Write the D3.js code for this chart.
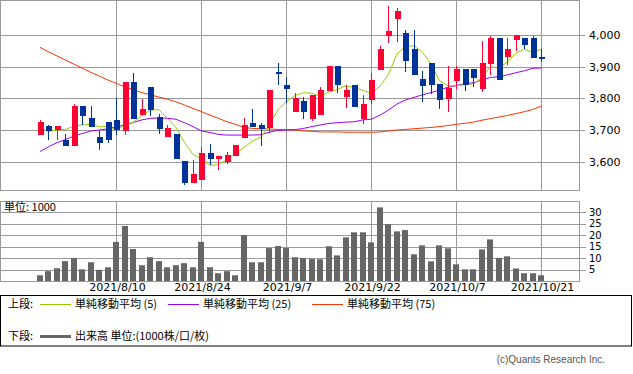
<!DOCTYPE html>
<meta charset="utf-8">
<html>
<head>
  <title>Candlestick with volume</title>
  <style>
    body { margin: 0; background: #fff; }
    svg { width: 633px; height: 374px; display: block; }
    .axis text { font-family: 'DejaVu Sans', sans-serif; font-size: 11px; fill: #000; }
    .axis text.vl { font-size: 10px; }
    .legend text { font-family: 'Noto Sans CJK JP', sans-serif; font-size: 11px; fill: #000; }
    .grid line { stroke: #999; stroke-width: 1; shape-rendering: crispEdges; }
    .frame { fill: none; stroke: #999; stroke-width: 1; shape-rendering: crispEdges; }
    .up { fill: #ff0033; stroke: none; }
    .down { fill: #003399; stroke: none; }
    .vol { fill: #666; }
  </style>
  <script src="https://d3js.org/d3.v7.min.js"></script>
</head>
<body>
  <svg></svg>
  <script>
    // trading days, 2021/7/27 - 2021/10/21
    var dates = ["7/27","7/28","7/29","7/30","8/2","8/3","8/4","8/5","8/6","8/10",
      "8/11","8/12","8/13","8/16","8/17","8/18","8/19","8/20","8/23","8/24",
      "8/25","8/26","8/27","8/30","8/31","9/1","9/2","9/3","9/6","9/7",
      "9/8","9/9","9/10","9/13","9/14","9/15","9/16","9/17","9/21","9/22",
      "9/24","9/27","9/28","9/29","9/30","10/1","10/4","10/5","10/6","10/7",
      "10/8","10/11","10/12","10/13","10/14","10/15","10/18","10/19","10/20","10/21"];

    var open = [3685,3713,3700,3670,3650,3776,3738,3679,3725,3732,
      3698,3852,3746,3835,3742,3679,3687,3601,3534,3542,
      3627,3609,3599,3619,3676,3722,3716,3705,3883,3842,
      3758,3792,3735,3748,3824,3902,3805,3841,3736,3796,
      3891,3998,4049,4006,3955,3861,3912,3844,3799,3856,
      3892,3892,3831,3909,3991,3929,3985,3991,3991,3929];
    var high = [3732,3716,3713,3687,3782,3776,3776,3698,3725,3800,
      3852,3880,3798,3835,3750,3716,3687,3603,3605,3647,
      3656,3619,3630,3654,3738,3766,3722,3827,3913,3867,
      3816,3805,3811,3835,3902,3902,3841,3841,3811,3880,
      3965,4092,4085,4016,4016,3886,3912,3844,3902,3902,
      3892,3892,3981,3998,3991,3991,4001,3991,3998,3957];
    var low = [3685,3668,3668,3650,3650,3716,3711,3637,3660,3685,
      3685,3736,3746,3744,3687,3679,3609,3525,3534,3542,
      3591,3574,3593,3619,3676,3709,3649,3689,3843,3784,
      3758,3736,3729,3748,3824,3818,3771,3772,3720,3782,
      3891,3976,3979,3884,3875,3789,3815,3765,3757,3831,
      3824,3835,3819,3873,3859,3904,3951,3955,3928,3915];
    var close = [3725,3696,3713,3650,3776,3745,3711,3660,3668,3700,
      3852,3736,3766,3763,3704,3707,3609,3534,3562,3627,
      3608,3619,3621,3654,3716,3709,3702,3827,3877,3831,
      3801,3758,3811,3826,3902,3843,3826,3772,3781,3858,
      3955,4012,4076,3917,3875,3839,3843,3796,3833,3892,
      3843,3864,3912,3991,3859,3956,4001,3969,3928,3924];

    // moving averages
    var ma5 = [3707,3695,3700,3702,3712,3716,3718,3710,3711,3700,
      3717,3725,3745,3763,3764,3736,3708,3661,3623,3609,
      3589,3590,3607,3625,3645,3665,3678,3715,3765,3789,
      3809,3818,3816,3806,3820,3828,3840,3834,3825,3816,
      3838,3876,3940,3964,3966,3945,3910,3856,3839,3840,
      3843,3846,3865,3900,3895,3916,3943,3955,3944,3956];
    var ma25 = [3632,3647,3660,3670,3681,3689,3697,3700,3704,3710,
      3716,3724,3732,3737,3738,3737,3734,3723,3711,3697,
      3692,3686,3684,3684,3684,3684,3685,3693,3699,3700,
      3701,3705,3711,3716,3721,3723,3725,3726,3732,3734,
      3747,3763,3782,3795,3803,3811,3818,3826,3835,3840,
      3847,3849,3858,3866,3868,3874,3881,3887,3895,3896];
    var ma75 = [3961,3947,3934,3921,3908,3895,3882,3870,3858,3847,
      3836,3827,3818,3811,3804,3797,3789,3779,3768,3758,
      3747,3737,3726,3718,3708,3705,3704,3703,3702,3701,
      3700,3697,3696,3694,3694,3694,3693,3693,3693,3693,
      3694,3697,3700,3702,3704,3706,3708,3711,3714,3718,
      3721,3725,3731,3736,3741,3746,3752,3758,3765,3776];

    // volume, unit 1000
    var volume = [2.5,4.3,5.6,8.7,10.1,5.1,8.2,4.9,6.0,17.1,
      24.1,14.0,6.9,10.4,8.7,6.0,6.9,7.8,6.0,17.1,
      6.0,3.4,4.3,2.5,20.1,8.2,8.2,14.4,15.3,14.4,
      10.4,10.0,9.6,9.5,15.2,11.2,19.1,21.3,21.3,16.9,
      32.2,24.9,21.7,22.3,11.7,15.6,8.6,15.6,14.3,7.3,
      5.1,5.1,13.8,18.2,10.1,10.8,5.5,3.4,3.4,2.5];

    // tick labels
    var dateTicks = [9, 19, 29, 39, 49, 59];
    var dateLabels = ["2021/8/10","2021/8/24","2021/9/7","2021/9/22","2021/10/7","2021/10/21"];
    var priceTicks = [3600, 3700, 3800, 3900, 4000];
    var volTicks = [5, 10, 15, 20, 25, 30];

    var svg = d3.select("svg");

    var plotW = 580;
    var price = {top: 0, bottom: 190};
    var vol = {top: 201, bottom: 281};

    // index scale, a few empty slots on both sides
    var x = d3.scaleLinear().domain([-4.7, 63.53]).range([0, plotW]);
    var y = d3.scaleLinear().domain([3509, 4110.5]).range([190.5, 0]);
    var yv = d3.scaleLinear().domain([0, 35]).range([281, 201]);

    var idx = d3.range(dates.length);
    var fmt = d3.format(",");

    // ---- price panel grid ----
    var g = svg.append("g").attr("class", "grid");
    g.selectAll(".hp").data(priceTicks).enter().append("line")
      .attr("x1", 0).attr("x2", plotW + 5)
      .attr("y1", function(d) { return Math.round(y(d)) + 0.5; })
      .attr("y2", function(d) { return Math.round(y(d)) + 0.5; });
    g.selectAll(".vp").data(dateTicks).enter().append("line")
      .attr("x1", function(d) { return Math.round(x(d)) + 0.5; })
      .attr("x2", function(d) { return Math.round(x(d)) + 0.5; })
      .attr("y1", price.top).attr("y2", price.bottom);

    // ---- volume panel grid ----
    g.selectAll(".hv").data(volTicks).enter().append("line")
      .attr("x1", 0).attr("x2", plotW + 6)
      .attr("y1", function(d) { return Math.round(yv(d)) + 0.5; })
      .attr("y2", function(d) { return Math.round(yv(d)) + 0.5; });
    g.selectAll(".vv").data(dateTicks).enter().append("line")
      .attr("x1", function(d) { return Math.round(x(d)) + 0.5; })
      .attr("x2", function(d) { return Math.round(x(d)) + 0.5; })
      .attr("y1", vol.top).attr("y2", vol.bottom);

    // frames
    svg.append("rect").attr("class", "frame")
      .attr("x", 0.5).attr("y", 0.5).attr("width", plotW - 1).attr("height", price.bottom);
    svg.append("rect").attr("class", "frame")
      .attr("x", 0.5).attr("y", vol.top + 0.5).attr("width", plotW - 1).attr("height", vol.bottom - vol.top);

    // ---- volume bars ----
    svg.append("g").selectAll("rect").data(idx).enter().append("rect")
      .attr("class", "vol")
      .attr("x", function(i) { return Math.round(x(i)) - 3; })
      .attr("width", 6)
      .attr("y", function(i) { return yv(volume[i]); })
      .attr("height", function(i) { return yv(0) - yv(volume[i]); });

    // ---- moving averages ----
    var line = d3.line()
      .x(function(d, i) { return x(i); })
      .y(function(d) { return y(d); });
    [[ma75, "#ff3300"], [ma25, "#9900ff"], [ma5, "#99cc00"]].forEach(function(s) {
      svg.append("path").datum(s[0])
        .attr("d", line)
        .attr("fill", "none")
        .attr("stroke", s[1])
        .attr("stroke-width", 1);
    });

    // ---- candles ----
    var cg = svg.append("g").attr("shape-rendering", "crispEdges");
    cg.selectAll(".wick").data(idx).enter().append("line")
      .attr("stroke", function(i) { return close[i] >= open[i] ? "#ff0033" : "#003399"; })
      .attr("x1", function(i) { return Math.round(x(i)) + 0.5; })
      .attr("x2", function(i) { return Math.round(x(i)) + 0.5; })
      .attr("y1", function(i) { return y(high[i]); })
      .attr("y2", function(i) { return y(low[i]); });
    cg.selectAll(".body").data(idx).enter().append("rect")
      .attr("class", function(i) { return close[i] >= open[i] ? "up" : "down"; })
      .attr("x", function(i) { return Math.round(x(i)) - 2.5; })
      .attr("width", 6)
      .attr("y", function(i) { return y(Math.max(open[i], close[i])); })
      .attr("height", function(i) { return Math.max(1.5, Math.abs(y(open[i]) - y(close[i]))); });

    // ---- axis labels ----
    var ax = svg.append("g").attr("class", "axis");
    ax.selectAll(".pl").data(priceTicks).enter().append("text")
      .attr("x", 589).attr("y", function(d) { return y(d); })
      .attr("dy", "0.35em")
      .text(function(d) { return fmt(d); });
    ax.selectAll(".vl").data(volTicks).enter().append("text")
      .attr("class", "vl")
      .attr("x", 589).attr("y", function(d) { return yv(d); })
      .attr("dy", "0.35em")
      .text(function(d) { return d; });
    ax.selectAll(".dl").data(dateTicks).enter().append("text")
      .attr("x", function(d) { return x(d) + 1; })
      .attr("y", 287).attr("dy", "0.35em")
      .attr("text-anchor", "middle")
      .text(function(d, i) { return dateLabels[i]; });

    // unit note in volume panel
    svg.append("text")
      .attr("x", 4).attr("y", 207).attr("dy", "0.35em")
      .style("font-family", "'Noto Sans CJK JP', sans-serif").style("font-size", "11px")
      .text("単位: 1000");

    // ---- legend ----
    var lg = svg.append("g").attr("class", "legend");
    lg.append("rect")
      .attr("x", 0.5).attr("y", 295.5).attr("width", 631).attr("height", 50.5)
      .attr("fill", "none").attr("stroke", "#000");

    var items = [
      {x: 40, y: 304, color: "#99cc00", w: 1, label: "単純移動平均 (5)"},
      {x: 168, y: 304, color: "#9900ff", w: 1, label: "単純移動平均 (25)"},
      {x: 312, y: 304, color: "#ff3300", w: 1, label: "単純移動平均 (75)"},
      {x: 40, y: 336, color: "#666", w: 3, label: "出来高 単位:(1000株/口/枚)"}
    ];
    lg.append("text").attr("x", 8).attr("y", 304).attr("dy", "0.35em").text("上段:");
    lg.append("text").attr("x", 8).attr("y", 336).attr("dy", "0.35em").text("下段:");
    items.forEach(function(d) {
      lg.append("line")
        .attr("x1", d.x).attr("x2", d.x + 31)
        .attr("y1", d.y + 0.5).attr("y2", d.y + 0.5)
        .attr("stroke", d.color).attr("stroke-width", d.w);
      lg.append("text")
        .attr("x", d.x + 35).attr("y", d.y).attr("dy", "0.35em")
        .text(d.label);
    });

    svg.append("text")
      .attr("x", 605).attr("y", 359).attr("dy", "0.35em")
      .attr("text-anchor", "end")
      .style("font-family", "'Liberation Sans', sans-serif").style("font-size", "10px")
      .style("fill", "#555")
      .text("(c)Quants Research Inc.");
  </script>
</body>
</html>
